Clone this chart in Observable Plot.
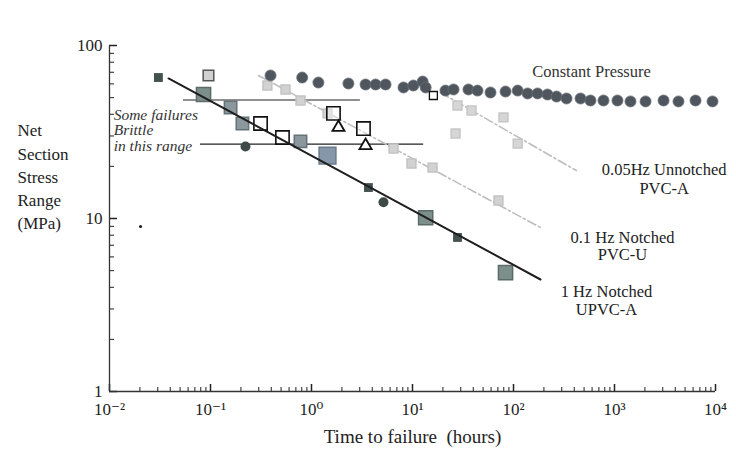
<!DOCTYPE html>
<html><head><meta charset="utf-8">
<script src="https://cdn.jsdelivr.net/npm/d3@7"></script>
<script src="https://cdn.jsdelivr.net/npm/@observablehq/plot@0.6"></script>
<style>body{margin:0;background:#fff} svg{display:block}</style>
</head><body><div id="chart"></div>
<script>
// Axis ticks
const xTicks = [0.01, 0.1, 1, 10, 100, 1000, 10000];
const xTickLabels = ["10⁻²", "10⁻¹", "10⁰", "10¹", "10²", "10³", "10⁴"];
const yTicks = [1, 10, 100];
const yTickLabels = ["1", "10", "100"];
const xMinor = xTicks.slice(0, -1).flatMap(t => [2,3,4,5,6,7,8,9].map(k => k * t));
const yMinor = yTicks.slice(0, -1).flatMap(t => [2,3,4,5,6,7,8,9].map(k => k * t));

// Data: [time to failure (hours), net section stress range (MPa)]
const constantPressure = [
  [0.393,67.1],[0.809,65.3],[1.17,61.1],[2.32,60.3],[3.43,59.5],[4.31,59.5],[5.41,59.5],
  [8.15,57.2],[10.2,58.7],[12.6,61.9],[13.5,57.2],[21.2,54.9],[25.5,55.7],[35.8,55.7],
  [44.0,54.9],[59.2,53.5],[83.4,54.2],[110,54.9],[138,52.8],[173,52.8],[217,52.1],
  [267,50.7],[335,49.4],[461,49.4],[578,48.1],[778,48.1],[1070,48.1],[1440,47.5],
  [2030,47.5],[3060,48.1],[4300,47.5],[6340,48.1],[9340,47.5]
];
const upvcSmallSquares = [[0.0305,65.3],[3.66,15.1],[27.9,7.77]];
const upvcBigSquares = [[0.0853,52.1],[13.5,10.1],[83.4,4.87]];
const upvcMidSquares = [[0.158,43.8],[0.207,35.4],[0.778,27.9]];
const upvcBlueSquares = [[1.44,23.1]];
const upvcCircles = [[0.222,26.1],[5.16,12.4]];
const strayPoints = [[0.0203,8.99]];
const openSquares = [[0.313,35.4],[0.516,29.4],[1.65,40.5],[3.27,33.1]];
const openSquaresSmall = [[16.1,51.4]];
const openTriangles = [[1.85,33.6],[3.43,26.4]];
const grayHouse = [[0.0955,67.1]];
const pvcuPoints = [[0.366,58.7],[0.553,55.7],[0.778,48.1],[1.44,40.5],[6.49,25.4],[9.77,20.8],[15.8,19.7],[71.0,12.7]];
const pvcaPoints = [[27.9,45.0],[38.4,42.1],[79.6,38.4],[26.7,31.0],[110,27.1]];

// Fitted lines
const upvcFit = [[0.0384,64.5],[185,4.44]];
const pvcuFit = [[0.2985,67.1],[185,8.87]];
const pvcaFit = [[18.9,53.5],[421,18.9]];
// Brittle range bounds
const brittleRange = [
  {x1: 0.054, x2: 3.05, y: 48.4},
  {x1: 0.0796, x2: 12.9, y: 26.9}
];

const X = d => d[0], Y = d => d[1];
const W = 736, H = 452, ML = 109, MR = 21, MT = 45, MB = 61;
const frameW = W - ML - MR, frameH = H - MT - MB;

const plot = Plot.plot({
  width: W, height: H,
  marginLeft: ML, marginRight: MR, marginTop: MT, marginBottom: MB,
  style: {fontFamily: "'Liberation Serif', 'DejaVu Serif', serif", background: "white", color: "#222", overflow: "visible"},
  x: {type: "log", domain: [0.01, 10000], axis: null},
  y: {type: "log", domain: [1, 100], axis: null},
  marks: [
    // inward ticks
    Plot.tickY(yTicks, {y: d => d, insetRight: frameW - 8, stroke: "#222", strokeWidth: 1.5}),
    Plot.tickY(yMinor, {y: d => d, insetRight: frameW - 5, stroke: "#444", strokeWidth: 1.2}),
    Plot.tickX(xTicks, {x: d => d, insetTop: frameH - 7, stroke: "#222", strokeWidth: 1.5}),
    Plot.tickX(xMinor, {x: d => d, insetTop: frameH - 4, stroke: "#444", strokeWidth: 1.2}),
    Plot.ruleX([0.01], {stroke: "#333", strokeWidth: 1.3}),
    Plot.ruleY([1], {stroke: "#333", strokeWidth: 1.3}),
    Plot.axisY(yTicks, {tickSize: 0, tickPadding: 7, tickFormat: d => yTickLabels[yTicks.indexOf(d)], label: null, fontSize: 17}),
    Plot.axisX(xTicks, {tickSize: 0, tickPadding: 11, tickFormat: d => xTickLabels[xTicks.indexOf(d)], label: null, fontSize: 17}),

    Plot.ruleY(brittleRange, {y: "y", x1: "x1", x2: "x2", stroke: "#222", strokeWidth: 1.2}),
    Plot.line(pvcuFit, {x: X, y: Y, stroke: "#bdbdbd", strokeWidth: 1.6, strokeDasharray: "9,3,2,3"}),
    Plot.line(pvcaFit, {x: X, y: Y, stroke: "#bdbdbd", strokeWidth: 1.6, strokeDasharray: "9,3,2,3"}),

    Plot.dot(pvcuPoints, {x: X, y: Y, symbol: "square", r: 5, fill: "#d2d2d2", stroke: "#c2c2c2"}),
    Plot.dot(pvcaPoints, {x: X, y: Y, symbol: "square", r: 5, fill: "#d6d6d6", stroke: "#c6c6c6"}),
    Plot.dot(constantPressure, {x: X, y: Y, r: 5.5, fill: "#50565e", stroke: "#6a7078", strokeWidth: 0.8}),
    Plot.dot(upvcBigSquares, {x: X, y: Y, symbol: "square", r: 8, fill: "#7d8f8b", stroke: "#5d6b68"}),
    Plot.dot(upvcMidSquares, {x: X, y: Y, symbol: "square", r: 7, fill: "#8a979d", stroke: "#66727a"}),
    Plot.dot(upvcBlueSquares, {x: X, y: Y, symbol: "square", r: 9.5, fill: "#8797aa", stroke: "#6a7a8c"}),
    Plot.dot(upvcSmallSquares, {x: X, y: Y, symbol: "square", r: 5, fill: "#44524f"}),
    Plot.dot(upvcCircles, {x: X, y: Y, r: 5, fill: "#3d4a48"}),
    Plot.dot(strayPoints, {x: X, y: Y, r: 1.6, fill: "#222"}),
    Plot.dot(grayHouse, {x: X, y: Y, symbol: "square", r: 6, fill: "#d0d0d0", stroke: "#555"}),
    Plot.dot(openSquares, {x: X, y: Y, symbol: "square", r: 7.5, fill: "white", fillOpacity: 0.4, stroke: "#111", strokeWidth: 1.6}),
    Plot.dot(openSquaresSmall, {x: X, y: Y, symbol: "square", r: 4.5, fill: "white", stroke: "#111", strokeWidth: 1.3}),
    Plot.dot(openTriangles, {x: X, y: Y, symbol: "triangle", r: 4.5, fill: "white", stroke: "#111", strokeWidth: 1.8}),
    Plot.line(upvcFit, {x: X, y: Y, stroke: "#1e1e1e", strokeWidth: 2}),

    Plot.text(["Constant Pressure"], {text: d => d, x: 592, y: 70.8, fontSize: 16.5, fill: "#333"}),
    Plot.text(["0.05Hz Unnotched\nPVC-A"], {text: d => d, x: 3100, y: 17.0, fontSize: 16.5, lineHeight: 1.1, fill: "#222"}),
    Plot.text(["0.1 Hz Notched\nPVC-U"], {text: d => d, x: 1200, y: 6.93, fontSize: 16.5, lineHeight: 1.05, fill: "#222"}),
    Plot.text(["1 Hz Notched\nUPVC-A"], {text: d => d, x: 834, y: 3.36, fontSize: 16.5, lineHeight: 1.05, fill: "#222"}),
    Plot.text(["Some failures\nBrittle\nin this range"], {text: d => d, x: 0.011, y: 32.3, textAnchor: "start", fontSize: 15.5, fontStyle: "italic", lineHeight: 1.0, fill: "#333"}),
    Plot.text(["Net\nSection\nStress\nRange\n(MPa)"], {text: d => d, frameAnchor: "top-left", dx: -92, dy: 74.5, textAnchor: "start", fontSize: 17, lineHeight: 1.36, fill: "#222"}),
    Plot.text(["Time to failure\u00a0 (hours)"], {text: d => d, frameAnchor: "bottom", dy: 51, fontSize: 19, fill: "#222"})
  ]
});
document.getElementById("chart").appendChild(plot);
</script>
</body></html>
